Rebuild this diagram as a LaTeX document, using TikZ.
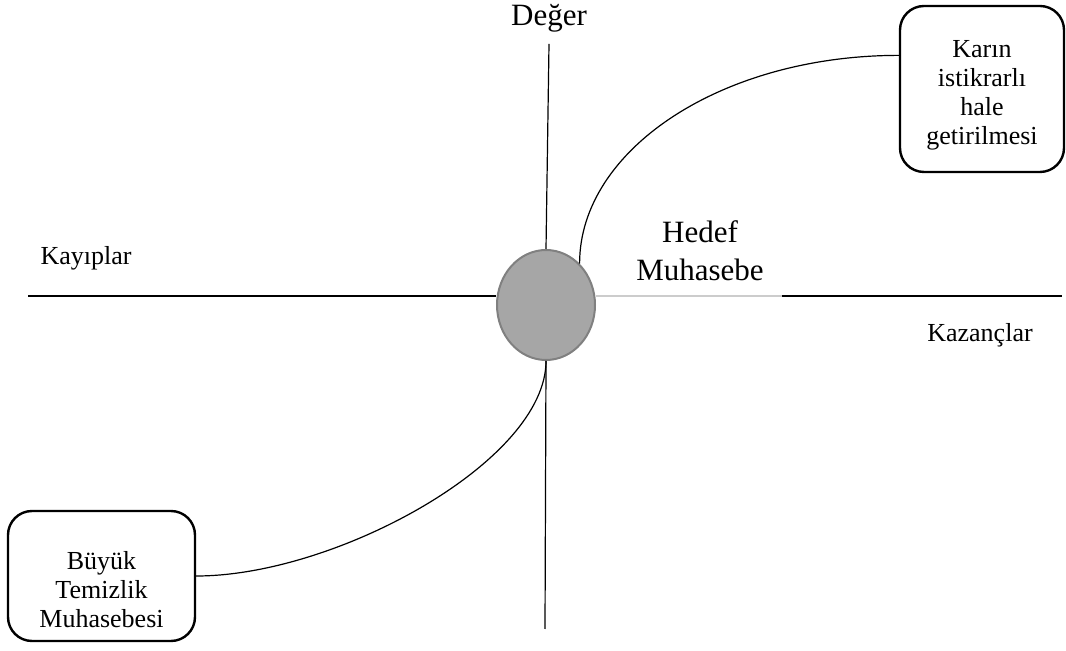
\documentclass[tikz,border=0pt]{standalone}
\usepackage{fontspec}
\setmainfont{Liberation Serif}
\usetikzlibrary{positioning,shapes.geometric}

\begin{document}
\begin{tikzpicture}[
  x=0.5pt, y=-0.5pt,
  box/.style={draw, rounded corners=12pt, line width=1.2pt, align=center,
    font=\fontsize{13}{14.5}\selectfont, inner sep=2pt},
  hub/.style={draw=black!50, fill=black!35, ellipse, line width=1pt,
    minimum width=49pt, minimum height=55pt, inner sep=0pt},
  axis/.style={line width=0.6pt},
  link/.style={line width=0.6pt},
  small/.style={font=\fontsize{13}{14.5}\selectfont},
  big/.style={font=\fontsize{15.5}{19}\selectfont, align=center}
]
\useasboundingbox (0,0) rectangle (1066,651);

% Centre: target accounting
\node[hub] (hub) at (546,305) {};
\node[big] (hedef) at (700,251) {Hedef\\Muhasebe};

% Axis ends
\coordinate (vtop) at (549,44);
\coordinate (vbot) at (545,629);
\coordinate (hleft) at (28,296);
\coordinate (gapl) at (782,296);
\coordinate (hright) at (1062,296);

% Axes
\draw[axis] (vtop) -- (hub.north);
\draw[axis] (hub.south) -- (vbot);
\draw[axis] (hleft) -- (hleft -| hub.west);
\draw[axis, black!20] (hright -| hub.east) -- (gapl);
\draw[axis] (gapl) -- (hright);

% Axis labels
\node[big] (deger) at (549,18) {Değer};
\node[small] (kayip) at (86,258) {Kayıplar};
\node[small] (kazanc) at (980,335) {Kazançlar};

% Boxes
\node[box, minimum width=82pt, minimum height=83pt] (kar) at (982,89)
  {\rule{0pt}{15pt}Karın\\istikrarlı\\hale\\getirilmesi};
\node[box, minimum width=93.5pt, minimum height=65pt] (temiz) at (101.5,576)
  {\rule{0pt}{23pt}Büyük\\Temizlik\\Muhasebesi};

% Curves to boxes
\draw[link] (hub.51) .. controls +(0,-114) and +(-177,0) .. (kar.158);
\draw[link] (hub.south) .. controls +(0,100) and +(140,0) .. (temiz.east);

\end{tikzpicture}
\end{document}
